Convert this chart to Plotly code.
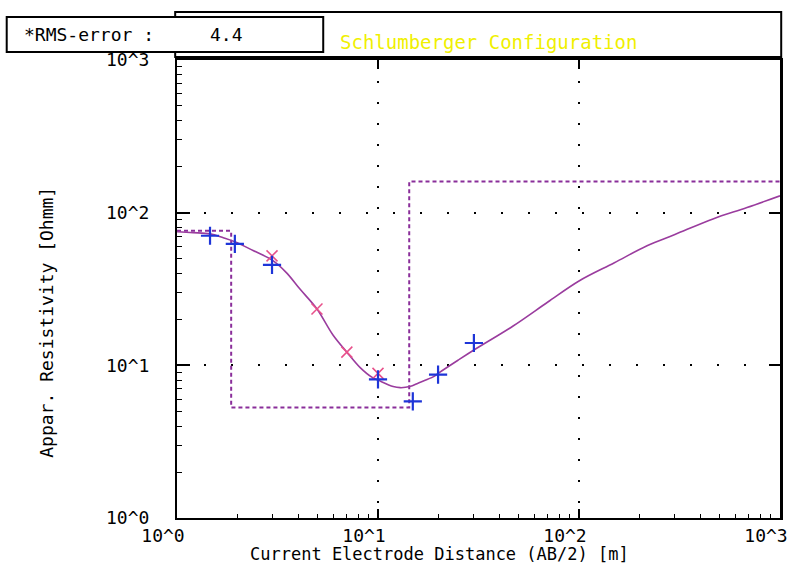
import plotly.graph_objects as go

# ---- data ----
tick_vals = [1, 10, 100, 1000]
tick_text = ["10^0", "10^1", "10^2", "10^3"]
minor_vals = [m * d for d in (1, 10, 100) for m in range(2, 10)]

# model response curve (solid)
curve_x = [1, 1.2, 1.46, 1.7, 1.94, 2.39, 3, 3.5, 4.09, 4.97, 5.97, 7, 8.13, 9.4, 10,
           11.9, 12.9, 14.4, 16, 18.8, 20, 25, 30, 47, 70, 100, 150, 218, 300, 464, 685, 1000]
curve_y = [75, 74, 72.6, 68.5, 64.5, 56.5, 48.5, 40.5, 31.6, 23.4, 15.8, 12.2, 9.7, 8.3, 8.0,
           7.26, 7.14, 7.26, 7.7, 8.4, 8.9, 10.8, 12.6, 18.1, 26, 35.7, 47, 60.7, 72, 91, 108, 129]

# observed data (blue +)
obs_x = [1.46, 1.94, 2.97, 10, 14.9, 19.9, 30]
obs_y = [70.6, 62.5, 45.5, 8.09, 5.8, 8.7, 14.0]

# second data set (red x)
obs2_x = [2.97, 4.97, 7.0, 10]
obs2_y = [52.1, 23.4, 12.2, 8.86]

# layered model (dashed)
layer_rho = [76, 5.3, 160]
layer_bounds = [1.86, 14.3]
x_end = 1000

rms_label = "*RMS-error :"
rms_value = "4.4"
title_text = "Schlumberger Configuration"
x_title = "Current Electrode Distance (AB/2) [m]"
y_title = "Appar. Resistivity [Ohmm]"

# ---- figure ----
step_x = [1] + layer_bounds + [x_end]
step_y = layer_rho + [layer_rho[-1]]

FONT = "DejaVu Sans Mono"
fig = go.Figure()
fig.add_trace(go.Scatter(x=step_x, y=step_y, mode="lines", line_shape="hv",
                         line=dict(color="#8a2e9a", width=2, dash="4px,3px"),
                         hoverinfo="skip", showlegend=False))
fig.add_trace(go.Scatter(x=curve_x, y=curve_y, mode="lines", line_shape="spline",
                         line=dict(color="#9a3c9e", width=1.6), showlegend=False))
fig.add_trace(go.Scatter(x=obs2_x, y=obs2_y, mode="markers",
                         marker=dict(symbol="x-thin", size=11, line=dict(color="#e8508a", width=1.5)),
                         showlegend=False))
fig.add_trace(go.Scatter(x=obs_x, y=obs_y, mode="markers",
                         marker=dict(symbol="cross-thin", size=13, line=dict(color="#1e35d8", width=2.2)),
                         showlegend=False))
# invisible trace to activate top/right axes
fig.add_trace(go.Scatter(x=[1], y=[1], xaxis="x2", yaxis="y2", mode="markers",
                         marker=dict(opacity=0), hoverinfo="skip", showlegend=False))

axis_common = dict(type="log", range=[0, 3], showline=True, linecolor="black", linewidth=2,
                   ticks="inside", tickcolor="black", tickwidth=1.5, automargin=False,
                   tickvals=tick_vals, ticktext=tick_text, zeroline=False,
                   tickfont=dict(family=FONT, size=18, color="black"),
                   showgrid=True, gridcolor="black", gridwidth=2)

fig.update_layout(
    width=791, height=566,
    margin=dict(l=177, r=11, t=60, b=48),
    paper_bgcolor="white", plot_bgcolor="white",
    showlegend=False,
    xaxis=dict(**axis_common, ticklen=9, griddash="2px,19px",
               ticklabelshift=-14, ticklabelstandoff=0,
               minor=dict(tickvals=minor_vals, ticks="inside", ticklen=4,
                          tickcolor="black", tickwidth=1.2, showgrid=False)),
    yaxis=dict(**axis_common, ticklen=13, griddash="2px,25px",
               ticklabelstandoff=22,
               minor=dict(tickvals=minor_vals, ticks="inside", ticklen=5,
                          tickcolor="black", tickwidth=1.2, showgrid=False)),
    xaxis2=dict(type="log", range=[0, 3], overlaying="x", side="top", anchor="y2",
                showline=True, linecolor="black", linewidth=2, ticks="inside", ticklen=9,
                tickcolor="black", tickwidth=1.5, tickvals=tick_vals[1:3], automargin=False,
                showticklabels=False, showgrid=False, zeroline=False),
    yaxis2=dict(type="log", range=[0, 3], overlaying="y", side="right", anchor="x2",
                showline=True, linecolor="black", linewidth=3, ticks="inside", ticklen=11,
                tickcolor="black", tickwidth=1.5, tickvals=tick_vals[1:3], automargin=False,
                showticklabels=False, showgrid=False, zeroline=False),
    shapes=[
        dict(type="rect", xref="paper", yref="paper", x0=-0.003, x1=1.002, y0=1.0066, y1=1.105,
             line=dict(color="black", width=2), fillcolor="white", layer="above"),
        dict(type="rect", xref="paper", yref="paper", x0=-0.2824, x1=0.2425, y0=1.0175, y1=1.0939,
             line=dict(color="black", width=2), fillcolor="white", layer="above"),
    ],
    annotations=[
        dict(text=title_text, xref="paper", yref="paper", x=0.2674, y=1.039,
             xanchor="left", yanchor="middle", showarrow=False,
             font=dict(family=FONT, size=19, color="#f0f000")),
        dict(text=rms_label, xref="paper", yref="paper", x=-0.2575, y=1.0546,
             xanchor="left", yanchor="middle", showarrow=False,
             font=dict(family=FONT, size=18, color="black")),
        dict(text=rms_value, xref="paper", yref="paper", x=0.0515, y=1.0546,
             xanchor="left", yanchor="middle", showarrow=False,
             font=dict(family=FONT, size=18, color="black")),
        dict(text=x_title, xref="paper", yref="paper", x=0.435, y=-0.0795,
             xanchor="center", yanchor="middle", showarrow=False,
             font=dict(family=FONT, size=17, color="black")),
        dict(text=y_title, xref="paper", yref="paper", x=-0.216, y=0.428,
             xanchor="center", yanchor="middle", showarrow=False, textangle=-90,
             font=dict(family=FONT, size=18, color="black")),
    ],
)

fig.write_html("out.html")
